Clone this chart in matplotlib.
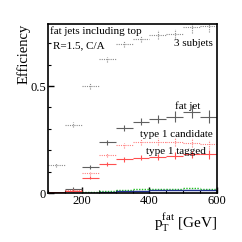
import matplotlib
matplotlib.use("Agg")
import matplotlib.pyplot as plt
import numpy as np
from matplotlib.ticker import MultipleLocator

plt.rcParams["font.family"] = ["Liberation Serif", "DejaVu Serif"]
plt.rcParams["mathtext.fontset"] = "custom"
plt.rcParams["mathtext.rm"] = "Liberation Serif"

# pT bins (GeV)
bin_lo = [100, 150, 200, 250, 300, 350, 400, 450, 500, 550]
bin_hi = [150, 200, 250, 300, 350, 400, 450, 500, 550, 600]

subjets3 = [0.13, 0.32, 0.50, 0.626, 0.695, 0.72, 0.74, 0.745, 0.775, 0.78]
subjets3_err = [0.01, 0.012, 0.012, 0.012, 0.014, 0.016, 0.02, 0.022, 0.025, 0.028]

fat_jet = [0.0, 0.018, 0.12, 0.237, 0.302, 0.333, 0.345, 0.357, 0.38, 0.357]
fat_jet_err = [0.0, 0.01, 0.01, 0.012, 0.014, 0.016, 0.02, 0.025, 0.03, 0.03]

candidate = [0.0, 0.012, 0.092, 0.179, 0.224, 0.237, 0.24, 0.24, 0.235, 0.228]
candidate_err = [0.0, 0.006, 0.008, 0.01, 0.012, 0.014, 0.016, 0.018, 0.02, 0.022]

tagged = [0.0, 0.008, 0.072, 0.134, 0.157, 0.165, 0.17, 0.175, 0.18, 0.18]
tagged_err = [0.0, 0.005, 0.007, 0.009, 0.01, 0.012, 0.014, 0.016, 0.018, 0.02]

green = [0.0, 0.0, 0.003, 0.01, 0.015, 0.018, 0.02, 0.02, 0.022, 0.02]
blue = [0.0, 0.0, 0.0, 0.004, 0.008, 0.01, 0.012, 0.012, 0.014, 0.013]


def draw_hist(ax, vals, errs, color, ls, lw=0.8):
    lo = np.array(bin_lo, dtype=float)
    hi = np.array(bin_hi, dtype=float)
    mid = 0.5 * (lo + hi)
    ax.hlines(vals, lo, hi, colors=color, linestyles=ls, linewidth=lw)
    if errs is not None:
        v = np.array(vals)
        e = np.array(errs)
        ax.vlines(mid, v - e, v + e, colors=color, linestyles=ls, linewidth=lw)


fig = plt.figure(figsize=(2.42, 2.42), dpi=100)
ax = fig.add_axes([48 / 242, 49 / 242, 169 / 242, 169 / 242])

draw_hist(ax, subjets3, subjets3_err, "#8c8c8c", (0, (1, 1)))
draw_hist(ax, fat_jet, fat_jet_err, "#606060", "solid")
draw_hist(ax, candidate, candidate_err, "#ff8080", (0, (1, 1)))
draw_hist(ax, tagged, tagged_err, "#ff5050", "solid")
draw_hist(ax, green, None, "#20c020", (0, (1, 1)), lw=1.0)
draw_hist(ax, blue, None, "#203090", "solid", lw=1.0)
ax.hlines([0.0], [100], [150], colors="#c00000", linewidth=1.2)

ax.set_xlim(100, 600)
ax.set_ylim(0, 0.79)
ax.set_xticks([200, 400, 600])
ax.set_yticks([0, 0.5])
ax.set_yticklabels(["0", "0.5"])
ax.xaxis.set_minor_locator(MultipleLocator(50))
ax.yaxis.set_minor_locator(MultipleLocator(0.1))
ax.tick_params(axis="both", which="both", direction="in", labelsize=9,
               top=False, right=False, pad=1.5)
ax.tick_params(axis="both", which="major", length=4, width=1)
ax.tick_params(axis="both", which="minor", length=2, width=0.8)
for s in ax.spines.values():
    s.set_linewidth(1.2)

ax.set_ylabel("Efficiency", fontsize=10.5, loc="top", labelpad=0)
ax.set_xlabel(r"p$_\mathrm{T}^\mathrm{fat}$ [GeV]", fontsize=11, loc="right", labelpad=3)

ax.text(0.01, 0.985, "fat jets including top", transform=ax.transAxes,
        fontsize=8, va="top", ha="left")
ax.text(0.03, 0.895, "R=1.5, C/A", transform=ax.transAxes,
        fontsize=8, va="top", ha="left")
ax.text(0.975, 0.91, "3 subjets", transform=ax.transAxes,
        fontsize=8, va="top", ha="right")
ax.text(0.75, 0.545, "fat jet", transform=ax.transAxes,
        fontsize=8, va="top", ha="left")
ax.text(0.975, 0.37, "type 1 candidate", transform=ax.transAxes,
        fontsize=8, va="top", ha="right")
ax.text(0.935, 0.27, "type 1 tagged", transform=ax.transAxes,
        fontsize=8, va="top", ha="right")

fig.savefig("out.png", dpi=100)
